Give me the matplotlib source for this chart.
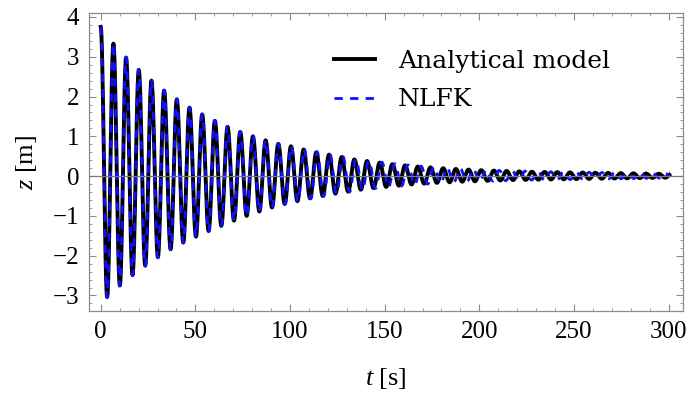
"""
Free decay of the heave displacement: analytical model against NLFK simulation.
"""
import matplotlib
matplotlib.use("Agg")
import matplotlib.pyplot as plt
from matplotlib.ticker import MultipleLocator
import numpy as np

# extrema of the analytical model (time [s], displacement [m])
t_analytical_max = [0, 6.7, 13.4, 20.1, 26.8, 33.5, 40.2, 46.9, 53.6, 60.3, 67.0, 73.7,
                    80.4, 87.1, 93.8, 100.5, 107.2, 113.9, 120.6, 127.3, 134.0, 140.7,
                    147.4, 154.1, 160.8, 167.5, 174.2, 180.9, 187.6, 194.3, 201.0, 207.7,
                    214.4, 221.1, 227.8, 234.5, 241.2, 247.9, 254.6, 261.3, 268.0, 274.7,
                    281.4, 288.1, 294.8, 301.5]
z_analytical_max = [3.75, 3.33, 2.98, 2.67, 2.40, 2.15, 1.93, 1.72, 1.55, 1.39, 1.24, 1.11,
                    1.00, 0.90, 0.81, 0.75, 0.67, 0.60, 0.54, 0.48, 0.42, 0.38,
                    0.34, 0.30, 0.27, 0.24, 0.22, 0.20, 0.18, 0.165, 0.15, 0.14,
                    0.13, 0.12, 0.11, 0.105, 0.10, 0.095, 0.09, 0.085, 0.08, 0.075,
                    0.07, 0.065, 0.06, 0.055]
t_analytical_min = [3.4, 10.1, 16.8, 23.5, 30.2, 36.9, 43.6, 50.3, 57.0, 63.7, 70.4, 77.1,
                    83.8, 90.5, 97.2, 103.9, 110.6, 117.3, 124.0, 130.7, 137.4, 144.1,
                    150.8, 157.5, 164.2, 170.9, 177.6, 184.3, 191.0, 197.7, 204.4, 211.1,
                    217.8, 224.5, 231.2, 237.9, 244.6, 251.3, 258.0, 264.7, 271.4, 278.1,
                    284.8, 291.5, 298.2]
z_analytical_min = [-3.04, -2.75, -2.49, -2.25, -2.04, -1.84, -1.67, -1.52, -1.38, -1.25,
                    -1.12, -1.00, -0.89, -0.79, -0.70, -0.63, -0.56, -0.50, -0.44, -0.39,
                    -0.34, -0.30, -0.27, -0.24, -0.21, -0.19, -0.17, -0.155, -0.14, -0.13,
                    -0.12, -0.11, -0.10, -0.095, -0.09, -0.085, -0.08, -0.075, -0.07,
                    -0.065, -0.06, -0.055, -0.05, -0.045, -0.04]

# extrema of the NLFK simulation
t_nlfk_max = [0, 6.7, 13.4, 20.1, 26.8, 33.5, 40.2, 46.9, 53.6, 60.3, 67.0, 73.7,
              80.4, 87.1, 93.9, 100.7, 107.5, 114.3, 121.1, 127.95, 134.8, 141.65,
              148.5, 155.4, 162.3, 169.2, 176.1, 183.0, 189.9, 196.8, 203.65, 210.5,
              217.35, 224.15, 230.95, 237.75, 244.5, 251.25, 258.0, 264.75, 271.5, 278.2,
              284.95, 291.65, 298.4]
z_nlfk_max = [3.75, 3.34, 2.99, 2.68, 2.41, 2.16, 1.94, 1.73, 1.56, 1.40, 1.25, 1.12,
              1.01, 0.91, 0.82, 0.76, 0.68, 0.61, 0.55, 0.49, 0.43, 0.39,
              0.35, 0.31, 0.28, 0.25, 0.23, 0.21, 0.19, 0.17, 0.155, 0.145,
              0.135, 0.125, 0.115, 0.11, 0.105, 0.10, 0.095, 0.09, 0.085, 0.08,
              0.075, 0.07, 0.065]
t_nlfk_min = [3.4, 10.1, 16.8, 23.5, 30.2, 36.9, 43.6, 50.3, 57.0, 63.7, 70.4, 77.1,
              83.8, 90.55, 97.35, 104.15, 110.95, 117.75, 124.55, 131.4, 138.25, 145.15,
              152.0, 158.9, 165.8, 172.7, 179.6, 186.5, 193.4, 200.3, 207.1, 213.95,
              220.8, 227.6, 234.4, 241.2, 248.0, 254.75, 261.45, 268.2, 274.9, 281.65,
              288.35, 295.05, 301.8]
z_nlfk_min = [-3.05, -2.76, -2.50, -2.26, -2.05, -1.85, -1.68, -1.53, -1.39, -1.26,
              -1.13, -1.01, -0.90, -0.80, -0.71, -0.64, -0.57, -0.51, -0.45, -0.40,
              -0.35, -0.31, -0.28, -0.25, -0.22, -0.20, -0.18, -0.16, -0.145, -0.135,
              -0.125, -0.115, -0.105, -0.10, -0.095, -0.09, -0.085, -0.08, -0.075,
              -0.07, -0.065, -0.06, -0.055, -0.05, -0.045]

t_end = 300.5
x_ticks = [0, 50, 100, 150, 200, 250, 300]
y_ticks = [-3, -2, -1, 0, 1, 2, 3, 4]


def traceFromExtrema(tMax, zMax, tMin, zMin, tEnd, n=24):
    """
    Joins consecutive turning points with half-cosine arcs.
    """
    t = np.concatenate([tMax, tMin])
    z = np.concatenate([zMax, zMin])
    order = np.argsort(t)
    t, z = t[order], z[order]
    s = np.linspace(0, 1, n, endpoint=False)
    shape = (1 - np.cos(np.pi * s)) / 2
    tt, zz = [], []
    for i in range(len(t) - 1):
        tt.append(t[i] + (t[i + 1] - t[i]) * s)
        zz.append(z[i] + (z[i + 1] - z[i]) * shape)
    tt = np.concatenate(tt + [[t[-1]]])
    zz = np.concatenate(zz + [[z[-1]]])
    keep = tt <= tEnd
    return tt[keep], zz[keep]


plt.rcParams["font.family"] = "Liberation Serif"
plt.rcParams["mathtext.fontset"] = "custom"
plt.rcParams["mathtext.it"] = "Liberation Serif:italic"
plt.rcParams["mathtext.rm"] = "Liberation Serif"

frameColor = "#8c8c8c"

fig = plt.figure(figsize=(6.92, 3.94), dpi=100)
ax = fig.add_axes([0.1286, 0.2107, 0.8584, 0.7563])

tA, zA = traceFromExtrema(t_analytical_max, z_analytical_max,
                          t_analytical_min, z_analytical_min, t_end)
tN, zN = traceFromExtrema(t_nlfk_max, z_nlfk_max, t_nlfk_min, z_nlfk_min, t_end)

ax.plot(tA, zA, color="black", lw=2.8, label="Analytical model", zorder=2)
ax.plot(tN, zN, color="#1010ff", lw=2.0, ls=(0, (3.0, 2.6)), label="NLFK", zorder=3)
ax.axhline(0, color="#7a7a7a", lw=0.9, zorder=4)

ax.set_xlim(-6.2, 307.6)
ax.set_ylim(-3.39, 4.10)
ax.set_xticks(x_ticks)
ax.set_yticks(y_ticks)
ax.xaxis.set_minor_locator(MultipleLocator(10))
ax.yaxis.set_minor_locator(MultipleLocator(0.2))
ax.tick_params(which="both", direction="in", top=True, right=True,
               color=frameColor, labelsize=18, pad=7)
ax.tick_params(which="major", length=5, width=0.8)
ax.tick_params(which="minor", length=2.5, width=0.6)
for spine in ax.spines.values():
    spine.set_color(frameColor)
    spine.set_linewidth(0.9)

ax.set_xlabel(r"$t$ [s]", fontsize=19, labelpad=17)
ax.set_ylabel(r"$z$ [m]", fontsize=19, labelpad=10)

ax.legend(loc="upper left", bbox_to_anchor=(0.375, 0.952), frameon=False,
          prop={"family": "DejaVu Serif", "size": 18},
          handlelength=1.65, handletextpad=0.9, labelspacing=0.62)

fig.savefig("out.png", dpi=100)
